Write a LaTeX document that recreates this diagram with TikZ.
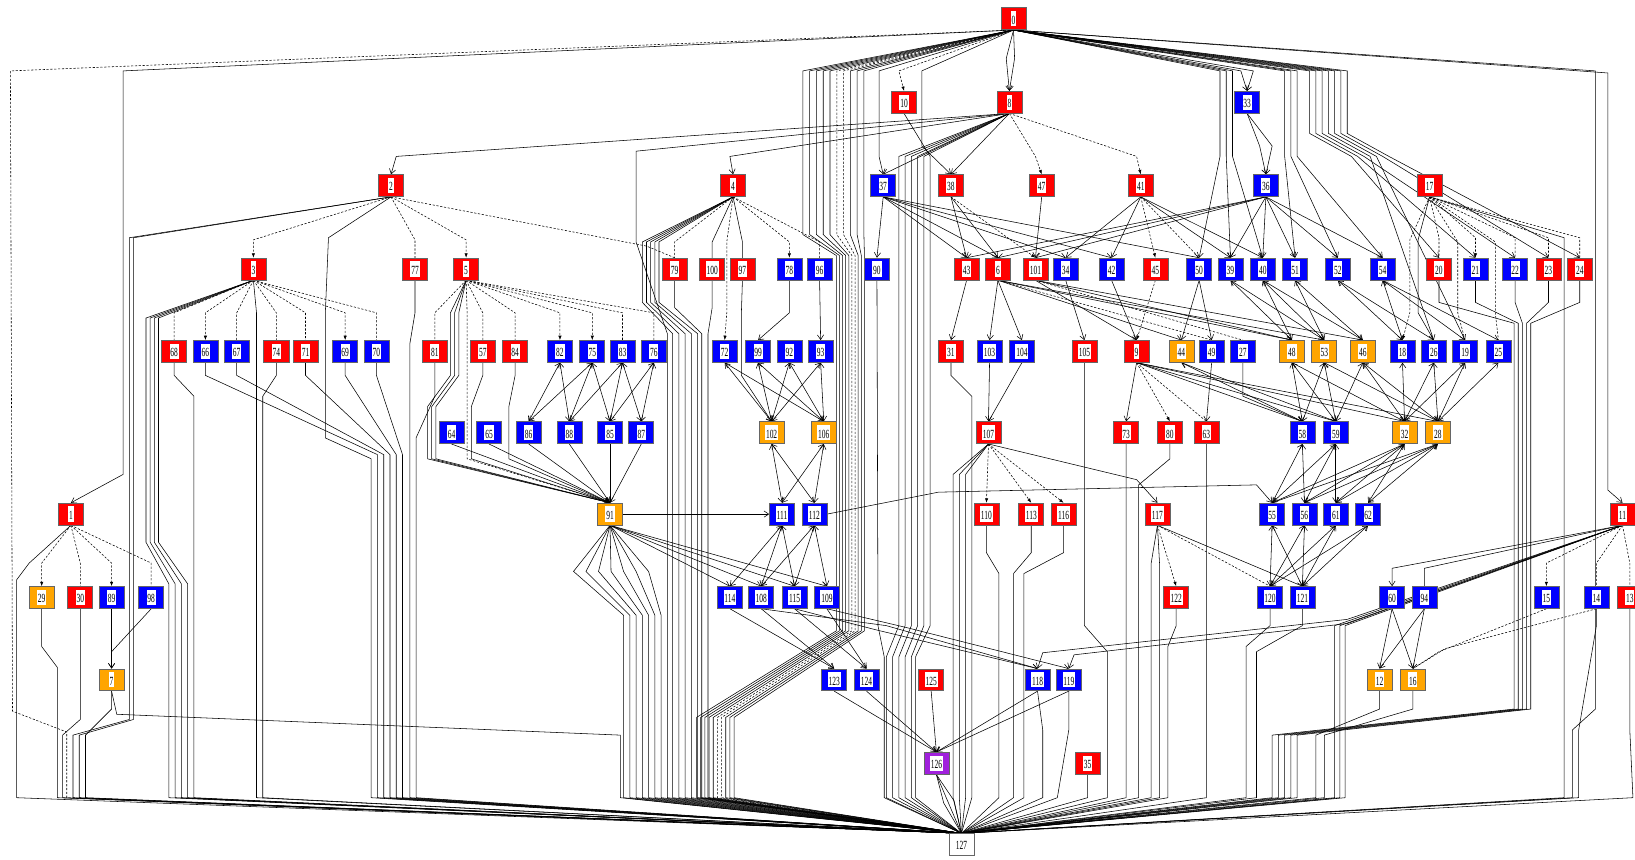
\documentclass[tikz,border=0pt]{standalone}
\usepackage{fontspec}
\setmainfont{Liberation Serif}
\usetikzlibrary{arrows.meta}
\pgfdeclarelayer{bg}
\pgfsetlayers{bg,main}
\definecolor{nodeorange}{RGB}{255,165,0}
\definecolor{nodepurple}{RGB}{160,32,220}
\setlength{\fboxsep}{0.45pt}
\newcommand{\lab}[1]{\colorbox{white}{\rule[-0.8pt]{0pt}{7.4pt}\scalebox{0.6}[1]{\fontsize{6.8}{6.8}\selectfont#1}}}

\begin{document}
\begin{tikzpicture}[x=0.02cm,y=-0.02cm,
    blk/.style={draw=black!60,line width=0.35pt,fill=#1,minimum width=0.48cm,minimum height=0.42cm,inner sep=0pt},
    rd/.style={blk=red}, bl/.style={blk=blue}, og/.style={blk=nodeorange},
    pu/.style={blk=nodepurple}, wt/.style={blk=white},
    ln/.style={line width=0.3pt},
    dl/.style={line width=0.3pt,dash pattern=on 1.2pt off 0.9pt},
    ar/.style={-{Straight Barb[length=2.6pt,width=3.4pt]}},
    da/.style={-{Latex[length=2.4pt,width=1.8pt]}},
    lna/.style={ln,ar}, dla/.style={dl,da},
    lnb/.style={ln,{Straight Barb[length=2.6pt,width=3.4pt]}-{Straight Barb[length=2.6pt,width=3.4pt]}}]
\useasboundingbox (0,0) rectangle (1568,824);

% nodes, row by row
\node[rd] (n0) at (972,18) {\lab{0}};
\foreach \n/\x/\c in {10/867/rd, 8/968/rd, 33/1196/bl}
    \node[\c] (n\n) at (\x,98) {\lab{\n}};
\foreach \n/\x/\c in {2/375/rd, 4/703/rd, 37/847/bl, 38/912/rd, 47/999/rd, 41/1094/rd, 36/1214/bl, 17/1371/rd}
    \node[\c] (n\n) at (\x,178) {\lab{\n}};
\foreach \n/\x/\c in {3/243/rd, 77/398/rd, 5/447/rd, 79/647/rd, 100/683/rd, 97/712/rd, 78/757/bl, 96/786/bl,
    90/841/bl, 43/927/rd, 6/957/rd, 101/993/rd, 34/1022/bl, 42/1066/bl, 45/1108/rd, 50/1150/bl, 39/1180/bl,
    40/1211/bl, 51/1242/bl, 52/1283/bl, 54/1326/bl, 20/1380/rd, 21/1415/bl, 22/1453/bl, 23/1485/rd, 24/1515/rd}
    \node[\c] (n\n) at (\x,258) {\lab{\n}};
\foreach \n/\x/\c in {68/167/rd, 66/197/bl, 67/227/bl, 74/265/rd, 71/293/rd, 69/331/bl, 70/361/bl, 81/417/rd,
    57/463/rd, 84/494/rd, 82/537/bl, 75/568/bl, 83/597/bl, 76/627/bl, 72/695/bl, 99/727/bl, 92/757/bl, 93/787/bl,
    31/912/rd, 103/949/bl, 104/980/bl, 105/1040/rd, 9/1090/rd, 44/1133/og, 49/1162/bl, 27/1192/bl, 48/1239/og,
    53/1270/og, 46/1307/og, 18/1345/bl, 26/1375/bl, 19/1405/bl, 25/1437/bl}
    \node[\c] (n\n) at (\x,337) {\lab{\n}};
\foreach \n/\x/\c in {64/433/bl, 65/469/bl, 86/507/bl, 88/546/bl, 85/585/bl, 87/615/bl, 102/740/og, 106/790/og,
    107/948/rd, 73/1080/rd, 80/1122/rd, 63/1157/rd, 58/1249/bl, 59/1281/bl, 32/1347/og, 28/1379/og}
    \node[\c] (n\n) at (\x,415) {\lab{\n}};
\foreach \n/\x/\c in {1/68/rd, 91/585/og, 111/750/bl, 112/781/bl, 110/946/rd, 113/989/rd, 116/1020/rd, 117/1110/rd,
    55/1220/bl, 56/1251/bl, 61/1281/bl, 62/1312/bl, 11/1556/rd}
    \node[\c] (n\n) at (\x,493) {\lab{\n}};
\foreach \n/\x/\c in {29/40/og, 30/77/rd, 89/107/bl, 98/145/bl, 114/700/bl, 108/730/bl, 115/762/bl, 109/793/bl,
    122/1128/rd, 120/1218/bl, 121/1249/bl, 60/1335/bl, 94/1366/bl, 15/1483/bl, 14/1531/bl, 13/1563/rd}
    \node[\c] (n\n) at (\x,573) {\lab{\n}};
\foreach \n/\x/\c in {7/107/og, 123/800/bl, 124/831/bl, 125/893/rd, 118/995/bl, 119/1025/bl, 12/1323/og, 16/1355/og}
    \node[\c] (n\n) at (\x,652) {\lab{\n}};
\node[pu] (n126) at (898,732) {\lab{126}};
\node[rd] (n35) at (1043,732) {\lab{35}};
\node[wt] (n127) at (922,810) {\lab{127}};

\begin{pgfonlayer}{bg}
% fan out of 0
\draw[dl] (n0.south) -- (10,68) -- (12,682) -- (64,702) -- (64,765) -- (n127.north);
\draw[lna] (n0.south) -- (118,68) -- (118,455) -- (n1.north);
\foreach \k/\s in {0/ln,1/ln,2/ln,3/ln,4/ln,5/dl,6/dl,7/ln,8/ln,9/ln}
    \draw[\s] (n0.south) -- ({770+6.5*\k},68) -- ({770+6.5*\k},225) -- ({802+3*\k},245) -- ({802+3*\k},605)
        -- ({668+4*\k},688) -- ({668+4*\k},765) -- (n127.north);
\draw[lna] (n0.south) -- (843,68) -- (843,150) -- (n37.north);
\draw[dla] (n0.south) -- (862,68) -- (n10.north);
\draw[lna] (n0.south) -- (884,68) -- (884,140) -- (n38.north);
\draw[lna] (n0.south) -- (965,56) -- (n8.north);
\draw[lna] (n0.south) -- (973,56) -- (n8.north);
\foreach \x/\t in {1170/n50, 1176/n39, 1182/n40, 1232/n51, 1238/n52, 1244/n54}
    \draw[lna] (n0.south) -- (\x,68) -- (\x,150) -- (\t.north);
\draw[lna] (n0.south) -- (1190,68) -- (n33.north);
\draw[lna] (n0.south) -- (1202,68) -- (n33.north);
\foreach \k/\t in {0/n20, 1/n21, 2/n22, 3/n26, 4/n19, 5/n23, 6/n24}
    \draw[lna] (n0.south) -- ({1256+6*\k},68) -- ({1256+6*\k},128) -- ({1296+6*\k},150) -- (\t.north);
\draw[ln] (n0.south) -- (1530,68) -- (1530,680) -- (1508,700) -- (1508,765) -- (n127.north);
\draw[lna] (n0.south) -- (1542,70) -- (1542,470) -- (n11.north);

% out of 8, 10, 33
\draw[lna] (n8.south) -- (380,150) -- (n2.north);
\draw[lna] (n8.south) -- (700,150) -- (n4.north);
\draw[ln] (n8.south) -- (610,145) -- (610,232) -- (640,320) -- (640,765) -- (n127.north);
\draw[lna] (n8.south) -- (n37.north);
\draw[lna] (n8.south) -- (n38.north);
\draw[dla] (n8.south) -- (993,150) -- (n47.north);
\draw[dla] (n8.south) -- (1090,150) -- (n41.north);
\foreach \k in {0,...,4}
    \draw[ln] (n8.south) -- ({862+6*\k},150) -- ({862+6*\k},600) -- ({850+6*\k},630) -- ({850+6*\k},765) -- (n127.north);
\draw[ln] (n10.south) -- (892,150) -- (892,600) -- (878,630) -- (878,765) -- (n127.north);
\draw[lna] (n33.south) -- (1208,140) -- (n36.north);
\draw[lna] (n33.south) -- (1220,140) -- (n36.north);

% left part: 2, 3, 5
\draw[dla] (n2.south) -- (243,230) -- (n3.north);
\draw[dl] (n2.south) -- (398,230) -- (n77.north);
\draw[dla] (n2.south) -- (447,230) -- (n5.north);
\draw[dl] (n2.south) -- (620,236) -- (n79.north);
\foreach \k in {0,1}
    \draw[ln] (n2.south) -- ({124+4*\k},228) -- ({124+4*\k},690) -- ({70+6*\k},705) -- ({70+6*\k},765) -- (n127.north);
\draw[ln] (n2.south) -- (315,228) -- (312,300) -- (312,420) -- (356,440) -- (356,765) -- (n127.north);
\foreach \t/\x/\s in {n68/167/dl, n66/197/dla, n67/227/dl, n74/265/dl, n71/293/dl, n69/331/dla, n70/361/dl}
    \draw[\s] (n3.south) -- (\x,300) -- (\t.north);
\foreach \k in {0,...,3}
    \draw[ln] (n3.south) -- ({140+4*\k},305) -- ({140+4*\k},520) -- ({162+6*\k},560) -- ({162+6*\k},765) -- (n127.north);
\draw[ln] (n3.south) -- (246,300) -- (246,765) -- (n127.north);
\draw[ln] (n68.south) -- (167,360) -- (186,380) -- (186,765) -- (n127.north);
\draw[ln] (n74.south) -- (265,360) -- (252,380) -- (252,765) -- (n127.north);
\foreach \t/\x/\k in {n66/197/0, n67/227/1, n71/293/2, n69/331/3, n70/361/4}
    \draw[ln] (\t.south) -- (\x,360) -- ({362+6*\k},436) -- ({362+6*\k},765) -- (n127.north);
\draw[ln] (n77.south) -- (398,300) -- (393,330) -- (393,765) -- (n127.north);
\draw[ln] (n81.south) -- (417,380) -- (399,420) -- (399,765) -- (n127.north);
\foreach \t/\x/\s in {n81/417/dl, n57/463/dl, n84/494/dl, n82/537/dla, n75/568/dla, n83/597/dl, n76/627/dl}
    \draw[\s] (n5.south) -- (\x,300) -- (\t.north);
\foreach \k in {0,1,2}
    \draw[lna] (n5.south) -- ({432+4*\k},300) -- ({432+4*\k},360) -- ({410+4*\k},390) -- ({410+4*\k},440) -- (n91.north);
\draw[dla] (n5.south) -- (448,300) -- (448,440) -- (n91.north);
\draw[lna] (n57.south) -- (463,360) -- (452,390) -- (452,440) -- (n91.north);
\draw[lna] (n84.south) -- (494,360) -- (488,390) -- (488,440) -- (n91.north);
\foreach \s/\t in {n82/n86, n82/n88, n75/n86, n75/n88, n75/n85, n83/n88, n83/n85, n83/n87, n76/n85, n76/n87}
    \draw[lnb] (\s.south) -- (\t.north);
\foreach \t in {n64,n65,n86,n88,n85,n87}
    \draw[lna] (\t.south) -- (n91.north);

% out of 91
\foreach \k in {0,...,6}
    \draw[ln] (n91.south) -- ({550+12*\k},548) -- ({598+6*\k},590) -- ({598+6*\k},765) -- (n127.north);
\foreach \t in {n114,n108,n115,n109}
    \draw[lna] (n91.south) -- (\t.north);
\draw[lna] (n91.east) -- (n111.west);
\draw[lna] (n112.east) -- (900,472) -- (1205,465) -- (n55.north);

% out of 4
\foreach \t/\x/\s in {n79/647/dl, n100/683/ln, n97/712/ln, n78/757/dla, n96/786/dl}
    \draw[\s] (n4.south) -- (\x,232) -- (\t.north);
\foreach \k in {0,...,4}
    \draw[ln] (n4.south) -- ({616+4*\k},232) -- ({616+4*\k},290) -- ({645+6*\k},320) -- ({645+6*\k},765) -- (n127.north);
\draw[dla] (n4.south) -- (697,232) -- (697,300) -- (n72.north);
\draw[ln] (n79.south) -- (647,295) -- (673,320) -- (673,765) -- (n127.north);
\draw[ln] (n100.south) -- (683,295) -- (679,320) -- (679,765) -- (n127.north);
\draw[lna] (n97.south) -- (711,300) -- (711,360) -- (n102.north);
\draw[lna] (n78.south) -- (757,300) -- (n99.north);
\draw[lna] (n96.south) -- (n93.north);
\foreach \s/\t in {n72/n102, n72/n106, n99/n102, n99/n106, n92/n102, n92/n106, n93/n102, n93/n106,
    n102/n111, n102/n112, n106/n111, n106/n112,
    n111/n114, n111/n108, n111/n115, n112/n108, n112/n115, n112/n109}
    \draw[lnb] (\s.south) -- (\t.north);
\foreach \s/\t in {n114/n123, n108/n123, n115/n124, n109/n124}
    \draw[lna] (\s.south) -- (\t.north);
\draw[lna] (n108.south) -- (850,600) -- (n118.north);
\draw[lna] (n109.south) -- (870,602) -- (n119.north);
\draw[lna] (n115.south) -- (840,604) -- (n118.north);
\foreach \s in {n123,n124,n125,n118,n119}
    \draw[lna] (\s.south) -- (n126.north);
\draw[ln] (n126.south) -- (n127.north);
\draw[ln] (n126.south) -- (905,770) -- (n127.north);
\draw[ln] (n126.south) -- (915,768) -- (n127.north);
\draw[ln] (n35.south) -- (1043,765) -- (n127.north);

% middle: 37, 38, 47, 41, 36
\foreach \s/\t in {n37/n90, n37/n43, n37/n6, n37/n34, n37/n42, n37/n50, n38/n43, n38/n6, n47/n101,
    n41/n34, n41/n42, n41/n39, n41/n40, n36/n6, n36/n101, n36/n39, n36/n40, n36/n51, n36/n52, n36/n54, n36/n43}
    \draw[lna] (\s.south) -- (\t.north);
\draw[dla] (n38.south) -- (n101.north);
\draw[dla] (n41.south) -- (n45.north);
\draw[dl] (n41.south) -- (n50.north);
\draw[ln] (n90.south) -- (842,600) -- (848,630) -- (848,765) -- (n127.north);
\draw[lna] (n43.south) -- (n31.north);
\foreach \t in {n103,n104,n44,n48,n53}
    \draw[lna] (n6.south) -- (\t.north);
\foreach \t in {n48,n46,n9}
    \draw[lna] (n101.south) -- (\t.north);
\draw[dl] (n101.south) -- (n27.north);
\draw[dl] (n6.south) -- (n49.north);
\draw[lna] (n34.south) -- (n105.north);
\draw[lna] (n42.south) -- (n9.north);
\draw[dla] (n45.south) -- (n9.north);
\draw[lna] (n50.south) -- (n44.north);
\draw[lna] (n50.south) -- (n49.north);
\foreach \s/\t in {n39/n48, n39/n53, n40/n53, n40/n46, n40/n48, n51/n46, n51/n53, n52/n18, n52/n26,
    n54/n19, n54/n25, n54/n18}
    \draw[lnb] (\s.south) -- (\t.north);

% right: 17
\foreach \t/\x/\s in {n20/1380/dl, n21/1415/dla, n22/1453/dl, n23/1485/dl, n24/1515/dl}
    \draw[\s] (n17.south) -- (\x,228) -- (\t.north);
\draw[dla] (n17.south) -- (1352,230) -- (1352,300) -- (n18.north);
\draw[ln] (n17.south) -- (1360,230) -- (1360,300) -- (n26.north);
\draw[dl] (n17.south) -- (1398,232) -- (1398,300) -- (n19.north);
\draw[dl] (n17.south) -- (1434,232) -- (1434,300) -- (n25.north);
\draw[ln] (n17.south) -- (1500,228) -- (1500,765) -- (n127.north);
\foreach \t/\x/\k in {n20/1380/0, n21/1415/1, n22/1453/2, n23/1485/3, n24/1515/4}
    \draw[ln] (\t.south) -- (\x,290) -- ({1452+4*\k},310) -- ({1452+4*\k},680) -- ({1220+6*\k},705) -- ({1220+6*\k},765) -- (n127.north);

% rows E to G, right half
\draw[lna] (n9.south) -- (n73.north);
\draw[dla] (n9.south) -- (n80.north);
\draw[dl] (n9.south) -- (n63.north);
\foreach \t in {n58,n59,n32,n28}
    \draw[lna] (n9.south) -- (\t.north);
\foreach \s/\t in {n44/n58, n44/n59, n48/n58, n48/n59, n48/n32, n53/n58, n53/n59, n53/n28, n46/n59, n46/n32, n46/n28,
    n18/n32, n26/n32, n26/n28, n19/n28, n25/n28, n19/n32}
    \draw[lnb] (\s.south) -- (\t.north);
\draw[lna] (n49.south) -- (n63.north);
\draw[lna] (n27.south) -- (1192,380) -- (n58.north);
\draw[lna] (n103.south) -- (n107.north);
\draw[lna] (n104.south) -- (n107.north);
\draw[ln] (n31.south) -- (912,360) -- (932,380) -- (932,765) -- (n127.north);
\draw[ln] (n105.south) -- (1040,600) -- (1062,625) -- (1062,765) -- (n127.north);
\foreach \t in {n110,n113,n116}
    \draw[dla] (n107.south) -- (\t.north);
\foreach \k in {0,1,2}
    \draw[ln] (n107.south) -- ({914+6*\k},455) -- ({914+6*\k},765) -- (n127.north);
\draw[lna] (n107.south) -- (1090,460) -- (n117.north);
\draw[ln] (n110.south) -- (946,530) -- (958,550) -- (958,765) -- (n127.north);
\draw[ln] (n113.south) -- (989,530) -- (972,550) -- (972,765) -- (n127.north);
\draw[ln] (n116.south) -- (1020,530) -- (982,550) -- (982,765) -- (n127.north);
\draw[ln] (n118.south) -- (1000,700) -- (1000,765) -- (n127.north);
\draw[ln] (n119.south) -- (1025,700) -- (1014,765) -- (n127.north);
\draw[ln] (n73.south) -- (1080,765) -- (n127.north);
\draw[ln] (n80.south) -- (1122,440) -- (1092,465) -- (1092,765) -- (n127.north);
\draw[ln] (n63.south) -- (1157,765) -- (n127.north);
\foreach \s/\t in {n58/n55, n58/n56, n59/n55, n59/n56, n59/n61, n32/n55, n32/n56, n32/n61, n32/n62,
    n28/n55, n28/n56, n28/n61, n28/n62}
    \draw[lnb] (\s.south) -- (\t.north);
\draw[dla] (n117.south) -- (n122.north);
\draw[dl] (n117.south) -- (n120.north);
\draw[ln] (n117.south) -- (n121.north);
\draw[ln] (n117.south) -- (1104,540) -- (1104,765) -- (n127.north);
\draw[ln] (n117.south) -- (1112,540) -- (1112,765) -- (n127.north);
\foreach \s/\t in {n55/n120, n55/n121, n56/n120, n56/n121, n61/n120, n61/n121, n62/n121, n62/n120}
    \draw[lnb] (\s.south) -- (\t.north);
\draw[ln] (n122.south) -- (1128,600) -- (1120,620) -- (1120,765) -- (n127.north);
\draw[ln] (n120.south) -- (1218,600) -- (1195,620) -- (1195,765) -- (n127.north);
\draw[ln] (n121.south) -- (1249,600) -- (1205,625) -- (1205,765) -- (n127.north);

% out of 11
\foreach \t/\x/\s in {n15/1483/dla, n14/1531/dl, n13/1563/dl}
    \draw[\s] (n11.south) -- (\x,540) -- (\t.north);
\draw[lna] (n11.south) -- (1335,545) -- (n60.north);
\draw[ln] (n11.south) -- (1366,545) -- (n94.north);
\draw[lna] (n11.south) -- (1292,594) -- (1000,626) -- (n118.north);
\draw[lna] (n11.south) -- (1292,598) -- (1030,628) -- (n119.north);
\foreach \k in {0,1,2}
    \draw[ln] (n11.south) -- ({1280+5*\k},600) -- ({1280+5*\k},765) -- (n127.north);
\foreach \s/\t in {n60/n12, n60/n16, n94/n12, n94/n16}
    \draw[lna] (\s.south) -- (\t.north);
\draw[ln] (n12.south) -- (1323,680) -- (1262,705) -- (1262,765) -- (n127.north);
\draw[ln] (n16.south) -- (1355,680) -- (1270,705) -- (1270,765) -- (n127.north);
\draw[dl] (n15.south) -- (1380,625) -- (n16.north);
\draw[dl] (n14.south) -- (1386,622) -- (n16.north);
\draw[ln] (n14.south) -- (1531,600) -- (1514,700) -- (1514,765) -- (n127.north);
\draw[ln] (n13.south) -- (1563,700) -- (1566,765) -- (n127.north);

% out of 1
\draw[ln] (n1.south) -- (28,540) -- (16,556) -- (16,765) -- (n127.north);
\foreach \t/\x/\s in {n29/40/dla, n30/77/dl, n89/107/dla, n98/145/dl}
    \draw[\s] (n1.south) -- (\x,540) -- (\t.north);
\draw[ln] (n29.south) -- (40,620) -- (55,640) -- (55,765) -- (n127.north);
\draw[ln] (n30.south) -- (77,690) -- (60,705) -- (60,765) -- (n127.north);
\draw[lna] (n89.south) -- (n7.north);
\draw[lna] (n98.south) -- (107,625) -- (n7.north);
\draw[ln] (n7.south) -- (107,680) -- (82,705) -- (82,765) -- (n127.north);
\draw[ln] (n7.south) -- (112,685) -- (595,705) -- (595,765) -- (n127.north);
\end{pgfonlayer}
\end{tikzpicture}
\end{document}
